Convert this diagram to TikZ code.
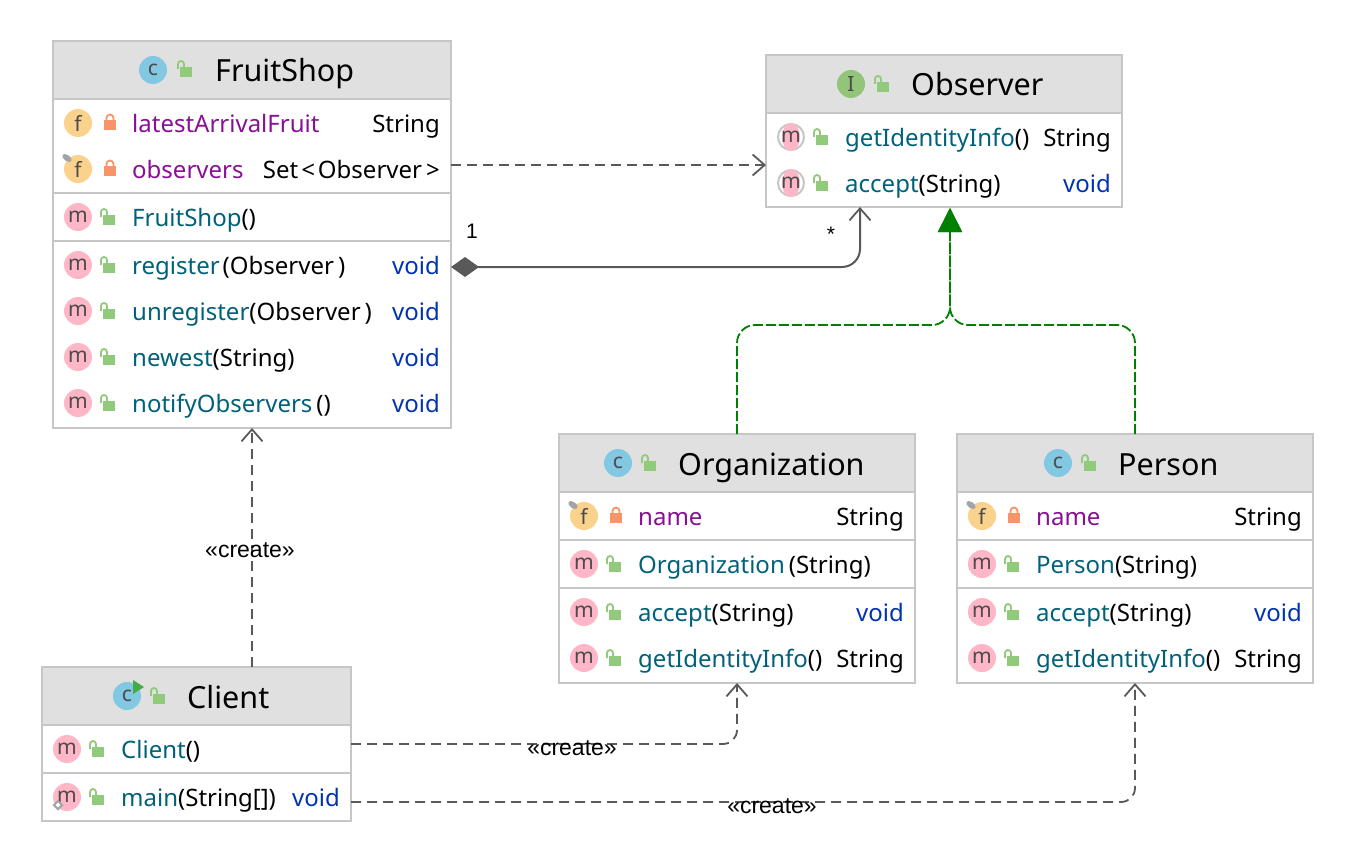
\documentclass[tikz,border=0pt]{standalone}
\usepackage{fontspec}
\setmainfont{Noto Sans}
\newfontfamily\labelfont{Liberation Sans}
\usepackage{xcolor}
\usetikzlibrary{arrows.meta, positioning, shapes.geometric}
\definecolor{headgray}{RGB}{224, 224, 224}
\definecolor{edgegray}{RGB}{198, 198, 198}
\definecolor{wiregray}{RGB}{89, 89, 89}
\definecolor{realgreen}{RGB}{0, 128, 0}
\definecolor{iconblue}{RGB}{130, 200, 226}
\definecolor{icongreen}{RGB}{146, 196, 122}
\definecolor{iconpink}{RGB}{255, 182, 198}
\definecolor{iconorange}{RGB}{250, 210, 140}
\definecolor{lockgreen}{RGB}{146, 202, 124}
\definecolor{lockorange}{RGB}{247, 148, 104}
\definecolor{fieldpurple}{RGB}{135, 16, 148}
\definecolor{methodteal}{RGB}{0, 98, 122}
\definecolor{keywordblue}{RGB}{0, 51, 179}
\definecolor{glyphgray}{RGB}{75, 75, 75}
\definecolor{pingray}{RGB}{160, 165, 170}
\definecolor{rungreen}{RGB}{70, 170, 70}

\newcommand{\fname}[1]{\textcolor{fieldpurple}{#1}}
\newcommand{\mname}[1]{\textcolor{methodteal}{#1}}
\newcommand{\kwvoid}{\textcolor{keywordblue}{void}}

% one field row: id, box, left x, y, text, type
\newcommand{\fieldrow}[6]{
    \node[fieldicon] (#1-icon) at ({#3+25},#4) {f};
    \pic at ({#3+57},#4) {privlock};
    \node[member] (#1) at ({#3+79},{#4+9.5}) {\fname{#5}};
    \node[typename, xshift=-11] (#1-type) at (#2.east |- #1.base) {#6};
}
% one method row: id, box, left x, y, text, type
\newcommand{\methodrow}[6]{
    \node[methodicon] (#1-icon) at ({#3+25},#4) {m};
    \pic at ({#3+54},#4) {publock};
    \node[member] (#1) at ({#3+79},{#4+9.5}) {#5};
    \node[typename, xshift=-11] (#1-type) at (#2.east |- #1.base) {#6};
}
% same for a method of the interface
\newcommand{\abstractrow}[6]{
    \node[absring] (#1-ring) at ({#3+25},#4) {};
    \node[abspink] (#1-oval) at ({#3+25},#4) {};
    \node[absglyph] (#1-icon) at ({#3+25},#4) {m};
    \pic at ({#3+54},#4) {publock};
    \node[member] (#1) at ({#3+79},{#4+9.5}) {#5};
    \node[typename, xshift=-11] (#1-type) at (#2.east |- #1.base) {#6};
}

\begin{document}
\begin{tikzpicture}[
    x=1pt, y=-1pt,
    classbox/.style={rectangle, draw=edgegray, line width=1.5pt, fill=white, anchor=north west, inner sep=0pt, outer sep=0pt},
    headbar/.style={rectangle, fill=headgray, anchor=north west, inner sep=0pt, outer sep=0pt},
    sepline/.style={draw=edgegray, line width=1.5pt},
    classtitle/.style={anchor=base west, inner sep=0pt, font=\fontsize{30.5}{36}\selectfont},
    member/.style={anchor=base west, inner sep=0pt, font=\fontsize{24}{29}\selectfont},
    typename/.style={anchor=base east, inner sep=0pt, font=\fontsize{24}{29}\selectfont},
    roundicon/.style={circle, inner sep=0pt, minimum size=28pt, text=glyphgray, font=\fontsize{21}{24}\selectfont},
    classicon/.style={roundicon, fill=iconblue},
    ifaceicon/.style={roundicon, fill=icongreen},
    fieldicon/.style={roundicon, fill=iconorange},
    methodicon/.style={roundicon, fill=iconpink},
    absring/.style={circle, draw=edgegray, line width=2pt, fill=white, inner sep=0pt, minimum size=26pt},
    abspink/.style={ellipse, fill=iconpink, inner sep=0pt, minimum width=18pt, minimum height=28pt},
    absglyph/.style={inner sep=0pt, text=glyphgray, font=\fontsize{21}{24}\selectfont},
    pinmark/.style={ellipse, fill=pingray, inner sep=0pt, minimum width=11pt, minimum height=6pt, rotate=-35},
    publock/.pic={
        \fill[lockgreen] (-4,-2) rectangle (8,8);
        \draw[lockgreen, line width=1.8pt] (-6,0) -- (-6,-5) arc[start angle=180, end angle=360, radius=3] -- (0,-2);
    },
    privlock/.pic={
        \fill[lockorange] (-6,-3) rectangle (6,7);
        \draw[lockorange, line width=1.8pt] (-3.5,-3) -- (-3.5,-5) arc[start angle=180, end angle=360, radius=3.5] -- (3.5,-3);
    },
    mult/.style={inner sep=0pt, font=\labelfont\fontsize{21}{25}\selectfont},
    stereo/.style={inner sep=0pt, font=\labelfont\fontsize{23}{27}\selectfont},
    depend/.style={-{Straight Barb[length=12pt, width=21pt, line width=1.8pt]}, dash pattern=on 10pt off 6pt, line width=1.8pt, color=wiregray, rounded corners=14pt},
    compose/.style={{Diamond[length=28pt, width=20pt, fill=wiregray]}-{Straight Barb[length=12pt, width=21pt, line width=1.8pt]}, line width=2pt, color=wiregray, rounded corners=18pt},
    realize/.style={-{Triangle[length=24pt, width=24pt, fill=realgreen]}, dash pattern=on 10pt off 3pt, line width=1.8pt, color=realgreen, rounded corners=18pt},
]
    \useasboundingbox (0,0) rectangle (1354,864);

    % FruitShop
    \node[classbox, minimum width=398pt, minimum height=387pt] (fruitshop) at (53,41) {};
    \node[headbar, minimum width=396pt, minimum height=57pt] (fruitshop-head) at (54,42) {};
    \draw[sepline] (fruitshop.west |- 0,99) -- (fruitshop.east |- 0,99);
    \draw[sepline] (fruitshop.west |- 0,193) -- (fruitshop.east |- 0,193);
    \draw[sepline] (fruitshop.west |- 0,241) -- (fruitshop.east |- 0,241);
    \node[classicon] (fruitshop-icon) at (153,70) {c};
    \pic at (184,69) {publock};
    \node[classtitle] (fruitshop-title) at (215,82) {FruitShop};
    \fieldrow{latest}{fruitshop}{53}{123}{latestArrivalFruit}{String}
    \fieldrow{observers}{fruitshop}{53}{169}{observers}{Set\kern3pt<\kern3pt Observer\kern4pt>}
    \node[pinmark] (observers-pin) at (67,158) {};
    \methodrow{shopctor}{fruitshop}{53}{217}{\mname{FruitShop}()}{}
    \methodrow{register}{fruitshop}{53}{265}{\mname{register}\kern3pt(Observer\kern4pt)}{\kwvoid}
    \methodrow{unregister}{fruitshop}{53}{311}{\mname{unregister}(Observer\kern4pt)}{\kwvoid}
    \methodrow{newest}{fruitshop}{53}{357}{\mname{newest}(String)}{\kwvoid}
    \methodrow{notify}{fruitshop}{53}{403}{\mname{notifyObservers}\kern4pt()}{\kwvoid}

    % Observer
    \node[classbox, minimum width=356pt, minimum height=152pt] (observer) at (766,55) {};
    \node[headbar, minimum width=354pt, minimum height=57pt] (observer-head) at (767,56) {};
    \draw[sepline] (observer.west |- 0,113) -- (observer.east |- 0,113);
    \node[ifaceicon] (observer-icon) at (851,84) {I};
    \pic at (881,84) {publock};
    \node[classtitle] (observer-title) at (911,96) {Observer};
    \abstractrow{obsinfo}{observer}{766}{137}{\mname{getIdentityInfo}()}{String}
    \abstractrow{obsaccept}{observer}{766}{183}{\mname{accept}(String)}{\kwvoid}

    % Organization
    \node[classbox, minimum width=356pt, minimum height=249pt] (organization) at (559,434) {};
    \node[headbar, minimum width=354pt, minimum height=57pt] (organization-head) at (560,435) {};
    \draw[sepline] (organization.west |- 0,492) -- (organization.east |- 0,492);
    \draw[sepline] (organization.west |- 0,540) -- (organization.east |- 0,540);
    \draw[sepline] (organization.west |- 0,588) -- (organization.east |- 0,588);
    \node[classicon] (organization-icon) at (618,463) {c};
    \pic at (648,463) {publock};
    \node[classtitle] (organization-title) at (678,475) {Organization};
    \fieldrow{orgname}{organization}{559}{516}{name}{String}
    \node[pinmark] (orgname-pin) at (573,505) {};
    \methodrow{orgctor}{organization}{559}{564}{\mname{Organization}\kern4pt(String)}{}
    \methodrow{orgaccept}{organization}{559}{612}{\mname{accept}(String)}{\kwvoid}
    \methodrow{orginfo}{organization}{559}{658}{\mname{getIdentityInfo}()}{String}

    % Person
    \node[classbox, minimum width=356pt, minimum height=249pt] (person) at (957,434) {};
    \node[headbar, minimum width=354pt, minimum height=57pt] (person-head) at (958,435) {};
    \draw[sepline] (person.west |- 0,492) -- (person.east |- 0,492);
    \draw[sepline] (person.west |- 0,540) -- (person.east |- 0,540);
    \draw[sepline] (person.west |- 0,588) -- (person.east |- 0,588);
    \node[classicon] (person-icon) at (1058,463) {c};
    \pic at (1088,463) {publock};
    \node[classtitle] (person-title) at (1118,475) {Person};
    \fieldrow{pername}{person}{957}{516}{name}{String}
    \node[pinmark] (pername-pin) at (971,505) {};
    \methodrow{perctor}{person}{957}{564}{\mname{Person}(String)}{}
    \methodrow{peraccept}{person}{957}{612}{\mname{accept}(String)}{\kwvoid}
    \methodrow{perinfo}{person}{957}{658}{\mname{getIdentityInfo}()}{String}

    % Client
    \node[classbox, minimum width=309pt, minimum height=154pt] (client) at (42,667) {};
    \node[headbar, minimum width=307pt, minimum height=57pt] (client-head) at (43,668) {};
    \draw[sepline] (client.west |- 0,725) -- (client.east |- 0,725);
    \draw[sepline] (client.west |- 0,773) -- (client.east |- 0,773);
    \node[classicon] (client-icon) at (127,696) {c};
    \fill[rungreen] (133,680) -- (144,687) -- (133,694) -- cycle;
    \pic at (157,696) {publock};
    \node[classtitle] (client-title) at (187,708) {Client};
    \methodrow{clientctor}{client}{42}{749}{\mname{Client}()}{}
    \methodrow{clientmain}{client}{42}{797}{\mname{main}(String[])}{\kwvoid}
    \node[diamond, draw=pingray, line width=2pt, fill=white, inner sep=0pt, minimum size=9pt] (clientmain-static) at (58,805) {};

    % connector ends
    \coordinate (shop-obs) at (451,165);
    \coordinate (obs-shop) at (766,165);
    \coordinate (shop-comp) at (451,267);
    \coordinate (obs-comp) at (860,207);
    \coordinate (obs-real) at (950,208);
    \coordinate (org-real) at (737,434);
    \coordinate (per-real) at (1135,434);
    \coordinate (client-shop) at (252,667);
    \coordinate (shop-client) at (252,428);
    \coordinate (client-org) at (351,744);
    \coordinate (org-client) at (737,683);
    \coordinate (client-per) at (351,802);
    \coordinate (per-client) at (1135,683);

    % Arrows
    \draw[depend] (shop-obs) -- (obs-shop);
    \draw[compose] (shop-comp) -- (obs-comp |- shop-comp) -- (obs-comp);
    \draw[realize] (org-real) -- (org-real |- 0,325) -- (obs-real |- 0,325) -- (obs-real);
    \draw[realize] (per-real) -- (per-real |- 0,325) -- (obs-real |- 0,325) -- (obs-real);
    \draw[depend] (client-shop) -- (shop-client);
    \draw[depend] (client-org) -- (org-client |- client-org) -- (org-client);
    \draw[depend] (client-per) -- (per-client |- client-per) -- (per-client);

    \node[mult] (one) at (472,231) {1};
    \node[mult] (many) at (831,234) {*};
    \node[stereo] (create-shop) at (250,550) {«create»};
    \node[stereo] (create-org) at (572,748) {«create»};
    \node[stereo] (create-per) at (772,806) {«create»};
\end{tikzpicture}
\end{document}
